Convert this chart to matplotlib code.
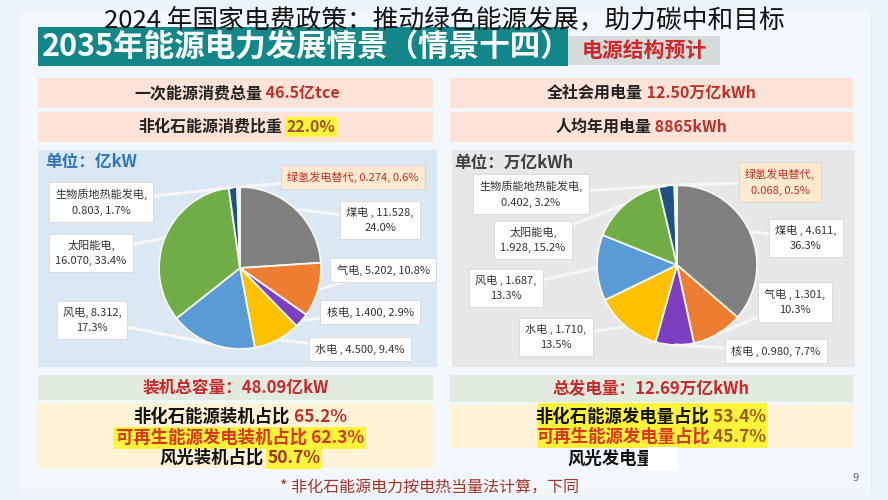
import numpy as np
import matplotlib.pyplot as plt
from matplotlib.patches import Rectangle

FONT = ['Noto Sans CJK SC', 'DejaVu Sans']
plt.rcParams['font.family'] = FONT

# 数据
names = ['煤电', '气电', '核电', '水电', '风电', '太阳能电', '生物质地热能发电', '绿氢发电替代']
names_gen = ['煤电', '气电', '核电', '水电', '风电', '太阳能电', '生物质能地热能发电', '绿氢发电替代']
cap_values = [11.528, 5.202, 1.400, 4.500, 8.312, 16.070, 0.803, 0.274]   # 亿kW
cap_pct = [24.0, 10.8, 2.9, 9.4, 17.3, 33.4, 1.7, 0.6]
gen_values = [4.611, 1.301, 0.980, 1.710, 1.687, 1.928, 0.402, 0.068]     # 万亿kWh
gen_pct = [36.3, 10.3, 7.7, 13.5, 13.3, 15.2, 3.2, 0.5]
colors = ['#7f7f7f', '#ed7d31', '#7b3fc0', '#ffc000', '#5b9bd5', '#70ad47', '#1f5282', '#deebf7']

# 标签里的分隔方式
cap_sep1 = [' , ', ', ', ', ', ' , ', ', ', ',\n', ',\n', ', ']
cap_sep2 = [',\n', ', ', ', ', ', ', ',\n', ', ', ', ', ', ']
gen_sep1 = [' , ', ' , ', ' , ', ' , ', ' , ', ',\n', ',\n', ',\n']
gen_sep2 = [',\n', ',\n', ', ', ',\n', ',\n', ', ', ', ', ', ']

title = '2024 年国家电费政策：推动绿色能源发展，助力碳中和目标'
banner = '2035年能源电力发展情景（情景十四）'
stat_primary = '46.5亿tce'
stat_nonfossil = '22.0%'
stat_usage = '12.50万亿kWh'
stat_percap = '8865kWh'
total_cap = '48.09亿kW'
total_gen = '12.69万亿kWh'
cap_shares = ['65.2%', '62.3%', '50.7%']
gen_shares = ['53.4%', '45.7%']

RED = '#c0302a'
YEL = '#fff23a'

fig = plt.figure(figsize=(8.88, 5.0), dpi=100)
fig.patch.set_facecolor('#eaf3f8')
bg = fig.add_axes([0, 0, 1, 1])
bg.set_xlim(0, 888)
bg.set_ylim(500, 0)
bg.axis('off')

def box(ax, x, y, w, h, c, z=1):
    ax.add_patch(Rectangle((x, y), w, h, fc=c, ec='none', zorder=z))

box(bg, 20, 10, 850, 485, '#f1f7fa', 0)
# 横幅
box(bg, 38, 27, 530, 39, '#13868a')
box(bg, 568, 36, 152, 29, '#d5dcdc')
bg.text(42, 47, banner, color='white', fontsize=22, weight='bold', va='center', ha='left')
bg.text(644, 50, '电源结构预计', color='#d0282a', fontsize=15, weight='bold', va='center', ha='center')

# 顶部指标框
for y in (78, 112):
    box(bg, 38, y, 395, 30, '#fbe3d8')
    box(bg, 450, y, 403, 30, '#fbe3d8')

# 饼图面板
box(bg, 38, 150, 399, 217, '#dbe8f4')
box(bg, 452, 150, 403, 217, '#e7e7e7')

# 底部框
box(bg, 38, 375, 395, 25, '#e2ebe0')
box(bg, 450, 375, 403, 27, '#e2ebe0')
box(bg, 38, 403, 395, 65, '#fef3d6')
box(bg, 450, 405, 403, 43, '#fef3d6')
box(bg, 538, 403, 229, 45, YEL, 2)

renderer = fig.canvas.get_renderer()

def line(ax, cx, cy, parts, size, weight='bold'):
    ts = []
    for s, c, hl in parts:
        t = ax.text(0, cy, s, color=c, fontsize=size, weight=weight, va='center', ha='left', zorder=5)
        if hl:
            t.set_bbox(dict(boxstyle='square,pad=0.1', fc=hl, ec='none'))
        ts.append(t)
    ws = [t.get_window_extent(renderer).width for t in ts]
    x = cx - sum(ws) / 2
    for t, w in zip(ts, ws):
        t.set_x(x)
        x += w

line(bg, 237, 93, [('一次能源消费总量', '#222', None), (' ' + stat_primary, RED, None)], 11.5)
line(bg, 237, 127, [('非化石能源消费比重', '#222', None), (' ', '#222', None), (stat_nonfossil, '#a0522d', YEL)], 11.5)
line(bg, 651, 93, [('全社会用电量', '#222', None), (' ' + stat_usage, RED, None)], 11.5)
line(bg, 641, 127, [('人均年用电量', '#222', None), (' ' + stat_percap, RED, None)], 11.5)

line(bg, 236, 388, [('装机总容量：' + total_cap, '#c8282a', None)], 12)
line(bg, 651, 389, [('总发电量：' + total_gen, '#c8282a', None)], 12)

line(bg, 240, 417, [('非化石能源装机占比', '#111', None), (' ' + cap_shares[0], RED, None)], 12.5)
line(bg, 240, 438, [('可再生能源发电装机占比 ' + cap_shares[1], '#d8361e', YEL)], 12.5)
line(bg, 240, 458, [('风光装机占比', '#111', None), (' ', '#111', None), (cap_shares[2], '#a0322a', YEL)], 12.5)

line(bg, 651, 417, [('非化石能源发电量占比', '#111', None), (' ' + gen_shares[0], '#9c5a1a', None)], 12.5)
line(bg, 651, 437, [('可再生能源发电量占比', '#d8361e', None), (' ' + gen_shares[1], '#9c5a1a', None)], 12.5)
bg.text(567, 459, '风光发电量', color='#111', fontsize=12.5, weight='bold', va='center', ha='left', zorder=5)
box(bg, 648, 447, 30, 24, 'white', 6)

bg.text(430, 487, '* 非化石能源电力按电热当量法计算，下同', color='#a8322a', fontsize=11.5,
        va='center', ha='center')
bg.text(856, 478, '9', color='#666', fontsize=8, va='center', ha='center')

bg.text(45, 162, '单位：亿kW', color='#2e75b6', fontsize=12, weight='bold', va='center')
bg.text(454, 163, '单位：万亿kWh', color='#404040', fontsize=12, weight='bold', va='center')

# 饼图
top = fig.add_axes([0, 0, 1, 1], zorder=3)
top.set_xlim(0, 888)
top.set_ylim(500, 0)
top.axis('off')
top.patch.set_alpha(0)

def draw_pie(cx, cy, r, vals, pct, labels, s1, s2, pos):
    ax = fig.add_axes([(cx - r) / 888, (500 - cy - r) / 500, 2 * r / 888, 2 * r / 500], zorder=2)
    wedges, _ = ax.pie(vals, colors=colors, startangle=90, counterclock=False,
                       wedgeprops=dict(edgecolor='#f4f8f0', linewidth=1.3))
    ax.set_xlim(-1, 1)
    ax.set_ylim(-1, 1)
    ax.axis('off')
    for i, w in enumerate(wedges):
        mid = np.deg2rad((w.theta1 + w.theta2) / 2)
        ex = cx + r * np.cos(mid)
        ey = cy - r * np.sin(mid)
        lx, ly = pos[i]
        top.plot([lx, ex], [ly, ey], color='#f6f6f6', lw=2.2, zorder=1, solid_capstyle='butt')
        txt = labels[i] + s1[i] + f'{vals[i]:.3f}' + s2[i] + f'{pct[i]:.1f}%'
        hl = i == len(wedges) - 1
        top.text(lx, ly, txt, ha='center', va='center', fontsize=8, linespacing=1.7,
                 color='#c0302a' if hl else '#333', zorder=4,
                 bbox=dict(boxstyle='square,pad=0.55', fc='#fde9d0' if hl else 'white',
                           ec='#d6d6d6', lw=0.6))

cap_pos = [(380, 220), (383, 270), (370, 312), (360, 349), (92, 320), (91, 253), (101, 202), (353, 177)]
gen_pos = [(806, 238), (795, 302), (776, 351), (556, 337), (506, 288), (533, 240), (531, 194), (780, 182)]
draw_pie(240, 268, 81, cap_values, cap_pct, names, cap_sep1, cap_sep2, cap_pos)
draw_pie(677, 265, 80, gen_values, gen_pct, names_gen, gen_sep1, gen_sep2, gen_pos)

top.text(444, 20, title, color='#111', fontsize=18.5, weight='light', va='center', ha='center', zorder=10)

fig.savefig('out.png', dpi=100, facecolor=fig.get_facecolor())
